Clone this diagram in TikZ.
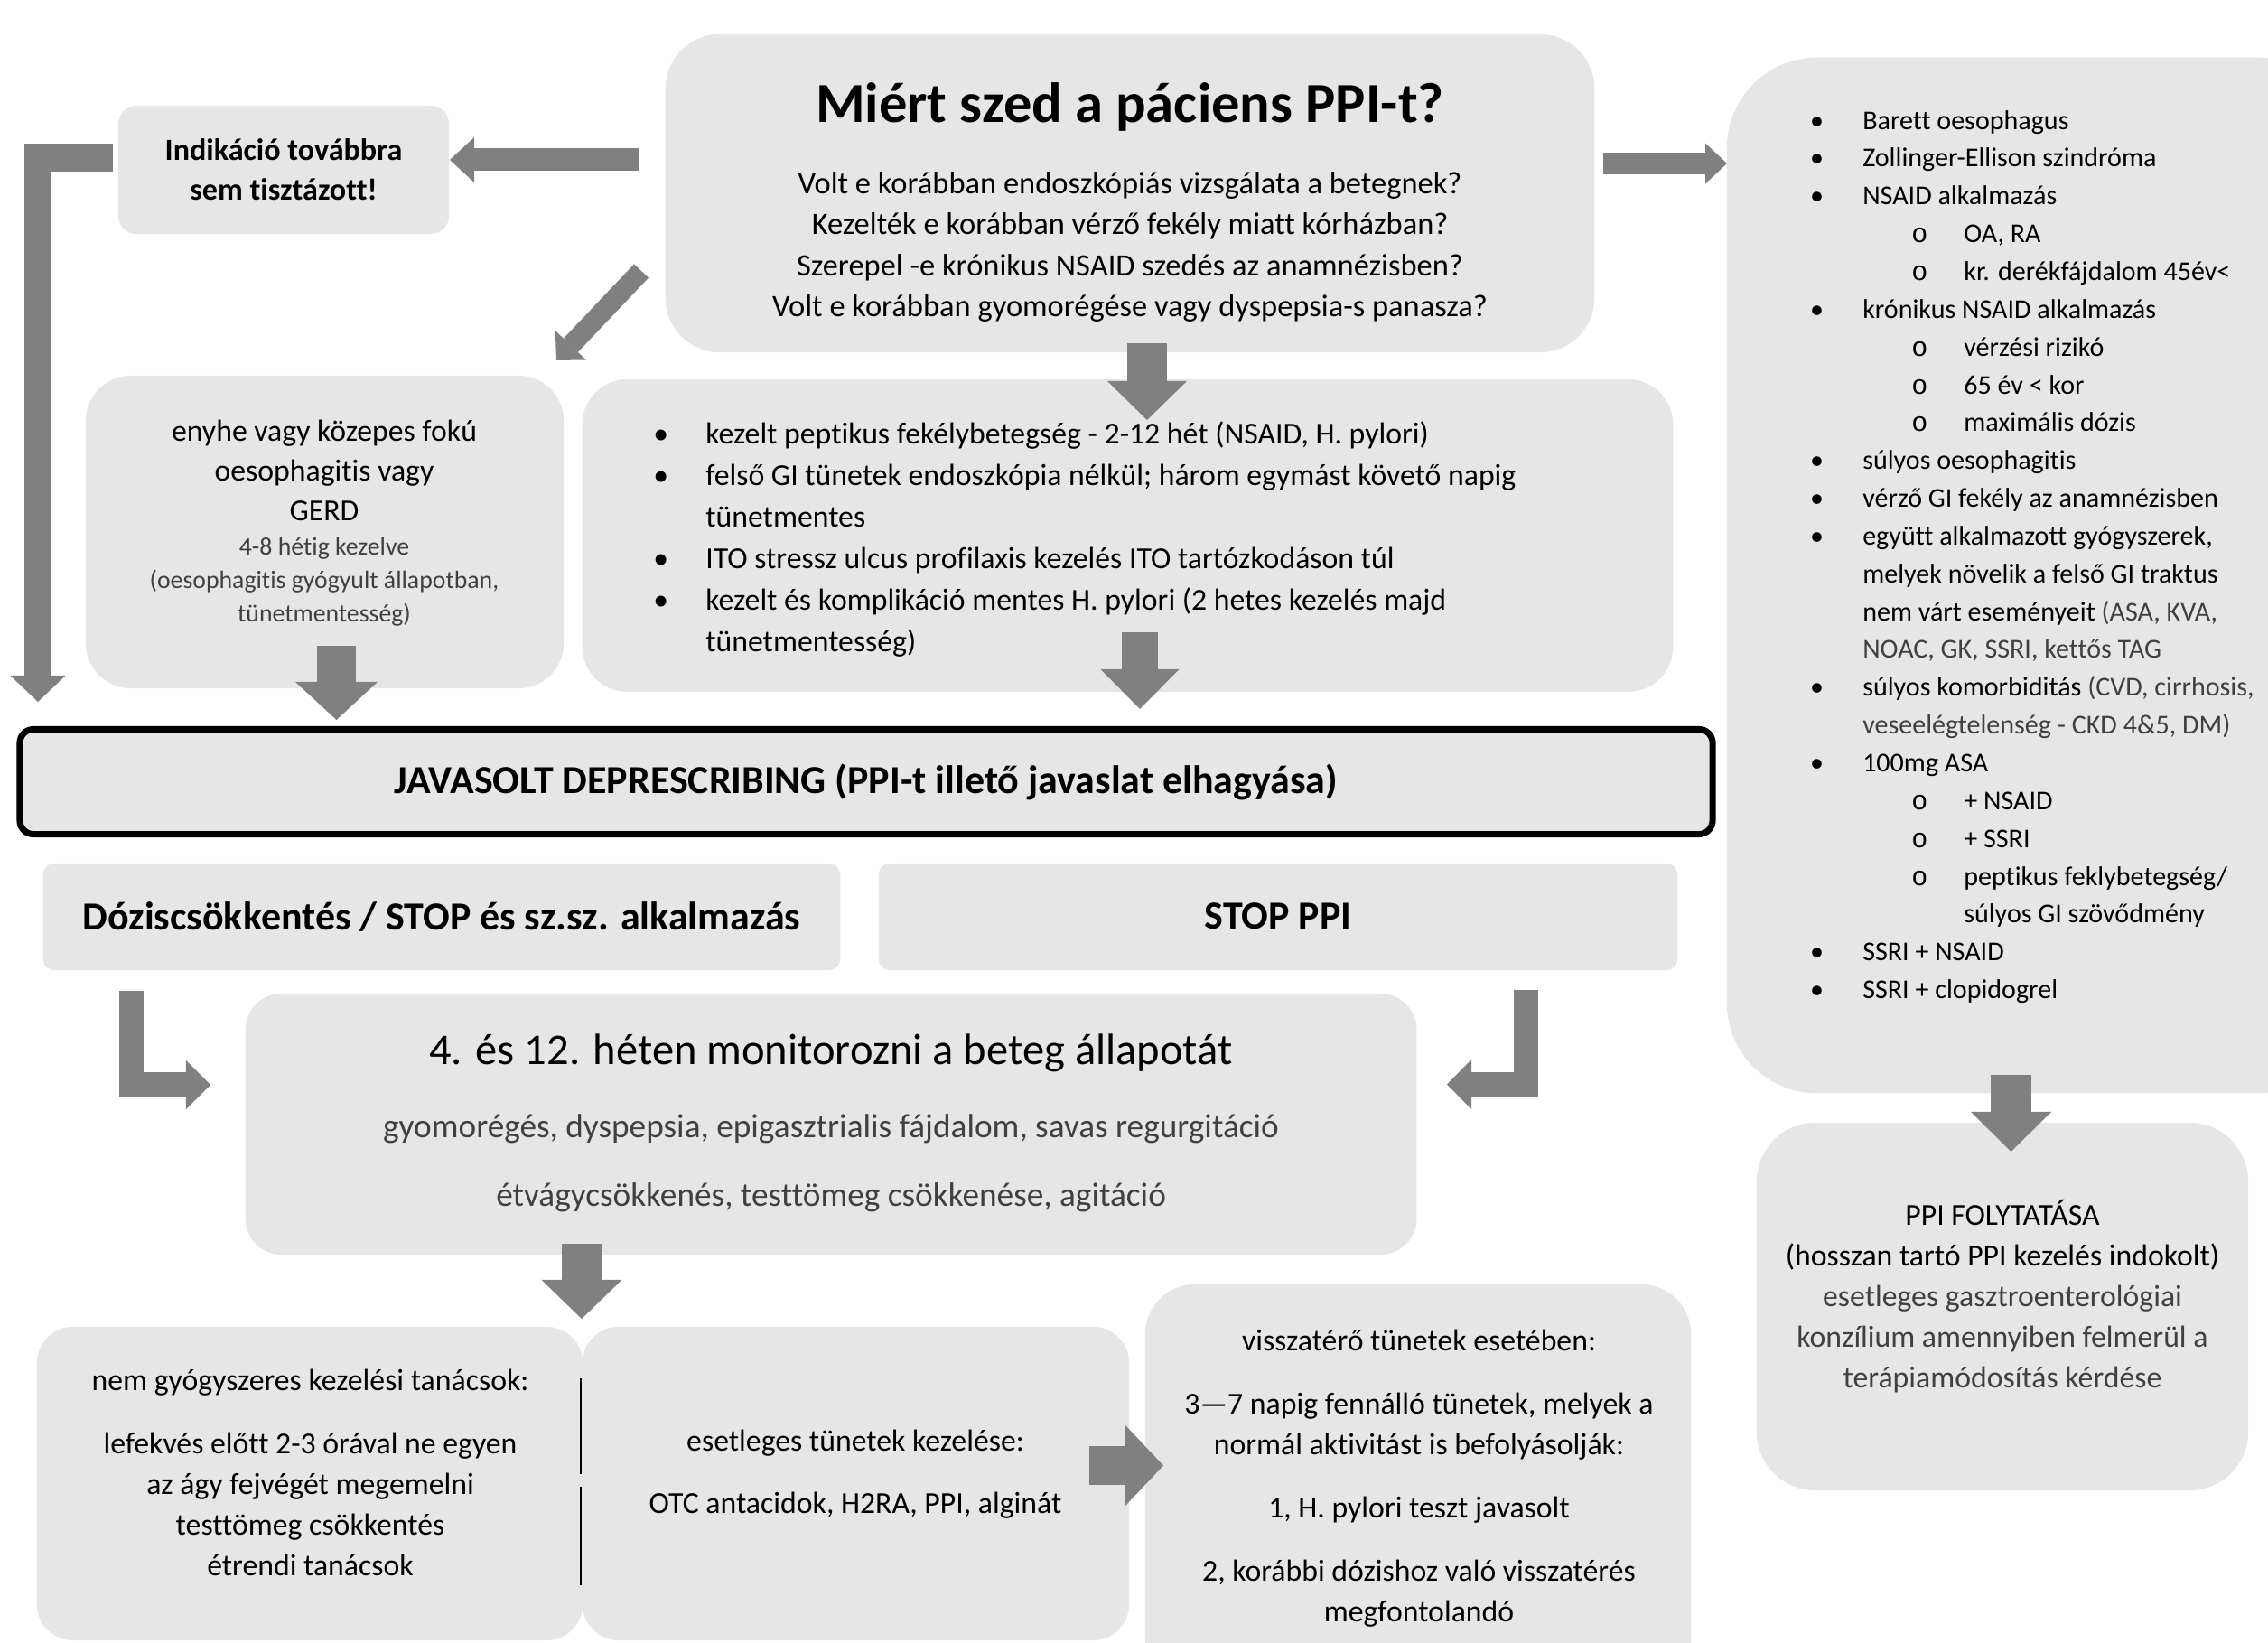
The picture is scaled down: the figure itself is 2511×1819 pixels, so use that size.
\documentclass[tikz,border=0pt]{standalone}
\usepackage{fontspec}
\setmainfont{Carlito}[Ligatures={TeX,NoCommon}]
\setmonofont{Liberation Mono}
\usetikzlibrary{arrows.meta}

\definecolor{boxgray}{RGB}{230,230,230}
\definecolor{arrowgray}{RGB}{128,128,128}
\definecolor{lighttext}{RGB}{64,64,64}

\newcommand{\lbul}{\makebox[0.58cm][l]{\textbullet}}
\newcommand{\lcont}{\hspace*{0.58cm}}
\newcommand{\lsub}{\hspace*{1.12cm}\makebox[0.58cm][l]{\ttfamily o}}
\newcommand{\lsubcont}{\hspace*{1.70cm}}

\begin{document}
\begin{tikzpicture}[x=0.01cm,y=-0.01cm,
  box/.style={fill=boxgray, inner sep=0pt, outer sep=0pt},
  txt/.style={font=\fontsize{9.6}{12.8}\selectfont, align=center, inner sep=0pt},
  small/.style={font=\fontsize{7.9}{10.5}\selectfont, align=center, inner sep=0pt, text=lighttext},
  head/.style={font=\bfseries\fontsize{12.5}{15}\selectfont},
  fatarrow/.style n args={3}{draw=arrowgray, line width=#1, -{Triangle[line width=0pt, length=#2, width=#3]}}]

\useasboundingbox (0,0) rectangle (2511,1819);

% boxes
\node[box, minimum width=10.28cm, minimum height=3.52cm, rounded corners=0.6cm] (title) at (1251,214) {};
\node[box, minimum width=3.66cm, minimum height=1.42cm, rounded corners=0.2cm, align=center,
      font=\bfseries\fontsize{9.7}{12.5}\selectfont] (indik) at (314,188) {Indikáció továbbra\\sem tisztázott!};
\node[box, minimum width=5.29cm, minimum height=3.46cm, rounded corners=0.5cm] (enyhe) at (359.5,589) {};
\node[box, minimum width=12.07cm, minimum height=3.46cm, rounded corners=0.5cm] (kezelt) at (1248.5,593) {};
\node[box, minimum width=6.88cm, minimum height=11.46cm, rounded corners=1cm] (indok) at (2256,637) {};
\node[box, draw=black, line width=0.07cm, minimum width=18.73cm, minimum height=1.16cm, rounded corners=0.15cm, head]
      (javasolt) at (959,865.5) {\raisebox{-0.8pt}{JAVASOLT DEPRESCRIBING (PPI-t illető javaslat elhagyása)}};
\node[box, minimum width=8.82cm, minimum height=1.18cm, rounded corners=0.12cm, head] (dozis) at (489,1015)
      {\raisebox{0.8pt}{Dóziscsökkentés / STOP és sz.sz. alkalmazás}};
\node[box, minimum width=8.84cm, minimum height=1.18cm, rounded corners=0.12cm, head] (stop) at (1415,1015)
      {\raisebox{0.8pt}{STOP PPI}};
\node[box, minimum width=12.96cm, minimum height=2.89cm, rounded corners=0.4cm] (monitor) at (920,1244.5) {};
\node[box, minimum width=6.04cm, minimum height=3.47cm, rounded corners=0.4cm] (nemgy) at (343,1642.5) {};
\node[box, minimum width=6.05cm, minimum height=3.47cm, rounded corners=0.4cm] (eset) at (947.5,1642.5) {};
\node[box, minimum width=6.04cm, minimum height=4.48cm, rounded corners=0.55cm] (vissza) at (1570,1646) {};
\node[box, minimum width=5.44cm, minimum height=4.07cm, rounded corners=0.65cm] (folytat) at (2217,1446.5) {};

% texts
\node[font=\bfseries\fontsize{17.8}{21}\selectfont, inner sep=0pt] (q-title) at (1251,118.5) {Miért szed a páciens PPI-t?};
\node[txt, font=\fontsize{9.8}{12.8}\selectfont] (q-lines) at (1251,273.5) {Volt e korábban endoszkópiás vizsgálata a betegnek?\\
  Kezelték e korábban vérző fekély miatt kórházban?\\
  Szerepel -e krónikus NSAID szedés az anamnézisben?\\
  Volt e korábban gyomorégése vagy dyspepsia-s panasza?};
\node[txt, font=\fontsize{9.6}{12.5}\selectfont] (enyhe-a) at (359,520.5) {enyhe vagy közepes fokú\\oesophagitis vagy\\GERD};
\node[small] (enyhe-b) at (359,644) {4-8 hétig kezelve\\(oesophagitis gyógyult állapotban,\\tünetmentesség)};
\node[txt, align=left, anchor=west, font=\fontsize{9.6}{13.1}\selectfont] (kezelt-list) at (722.6,597) {%
  \lbul kezelt peptikus fekélybetegség - 2-12 hét (NSAID, H. pylori)\\
  \lbul felső GI tünetek endoszkópia nélkül; három egymást követő napig\\
  \lcont tünetmentes\\
  \lbul ITO stressz ulcus profilaxis kezelés ITO tartózkodáson túl\\
  \lbul kezelt és komplikáció mentes H. pylori (2 hetes kezelés majd\\
  \lcont tünetmentesség)};
\node[txt, align=left, anchor=west, font=\fontsize{8.55}{11.9}\selectfont] (indok-list) at (2003.5,616.5) {%
  \lbul Barett oesophagus\\
  \lbul Zollinger-Ellison szindróma\\
  \lbul NSAID alkalmazás\\
  \lsub OA, RA\\
  \lsub kr. derékfájdalom 45év<\\
  \lbul krónikus NSAID alkalmazás\\
  \lsub vérzési rizikó\\
  \lsub 65 év < kor\\
  \lsub maximális dózis\\
  \lbul súlyos oesophagitis\\
  \lbul vérző GI fekély az anamnézisben\\
  \lbul együtt alkalmazott gyógyszerek,\\
  \lcont melyek növelik a felső GI traktus\\
  \lcont nem várt eseményeit {\color{lighttext}(ASA, KVA,}\\
  \lcont {\color{lighttext}NOAC, GK, SSRI, kettős TAG}\\
  \lbul súlyos komorbiditás {\color{lighttext}(CVD, cirrhosis,}\\
  \lcont {\color{lighttext}veseelégtelenség - CKD 4\&5, DM)}\\
  \lbul 100mg ASA\\
  \lsub + NSAID\\
  \lsub + SSRI\\
  \lsub peptikus feklybetegség/\\
  \lsubcont súlyos GI szövődmény\\
  \lbul SSRI + NSAID\\
  \lbul SSRI + clopidogrel};
\node[inner sep=0pt, font=\fontsize{13.8}{16}\selectfont] (mon-title) at (920,1166) {4. és 12. héten monitorozni a beteg állapotát};
\node[txt, text=lighttext, font=\fontsize{10.6}{21.6}\selectfont] (mon-lines) at (920,1288)
  {gyomorégés, dyspepsia, epigasztrialis fájdalom, savas regurgitáció\\étvágycsökkenés, testtömeg csökkenése, agitáció};
\node[txt] (nemgy-text) at (343.5,1630.5) {nem gyógyszeres kezelési tanácsok:\\[7.1pt]
  lefekvés előtt 2-3 órával ne egyen\\az ágy fejvégét megemelni\\testtömeg csökkentés\\étrendi tanácsok};
\node[txt] (eset-text) at (947,1632.5) {esetleges tünetek kezelése:\\[6.8pt]OTC antacidok, H2RA, PPI, alginát};
\node[txt] (vissza-text) at (1571,1636.5) {visszatérő tünetek esetében:\\[7.1pt]
  3—7 napig fennálló tünetek, melyek a\\normál aktivitást is befolyásolják:\\[7.1pt]
  1, H. pylori teszt javasolt\\[7.1pt]
  2, korábbi dózishoz való visszatérés\\megfontolandó};
\node[txt] (folytat-text) at (2217,1435) {PPI FOLYTATÁSA\\(hosszan tartó PPI kezelés indokolt)\\
  \color{lighttext}esetleges gasztroenterológiai\\\color{lighttext}konzílium amennyiben felmerül a\\\color{lighttext}terápiamódosítás kérdése};

% separators
\draw[line width=0.02cm] (643,1526) -- (643,1632);
\draw[line width=0.02cm] (643,1646) -- (643,1755);

% arrows
\coordinate (ti-s) at (707,177);    \coordinate (ti-e) at (498,177);
\coordinate (il-s) at (125,174.5);  \coordinate (il-e) at (42,777);
\coordinate (te-s) at (710,300);    \coordinate (te-e) at (616,399);
\coordinate (tk-s) at (1270,380);   \coordinate (tk-e) at (1270,465);
\coordinate (tl-s) at (1775,181);   \coordinate (tl-e) at (1912,181);
\coordinate (ej-s) at (372.5,715);  \coordinate (ej-e) at (372.5,797);
\coordinate (kj-s) at (1262,700);   \coordinate (kj-e) at (1262,785);
\coordinate (dm-s) at (145.5,1097); \coordinate (dm-e) at (233,1201);
\coordinate (sm-s) at (1689.5,1096);\coordinate (sm-e) at (1602,1200.5);
\coordinate (mb-s) at (644,1377);   \coordinate (mb-e) at (644,1460);
\coordinate (ev-s) at (1206,1622.5);\coordinate (ev-e) at (1288,1622.5);
\coordinate (lf-s) at (2226.5,1190);\coordinate (lf-e) at (2226.5,1275);

\draw[fatarrow={0.25cm}{0.27cm}{0.50cm}] (ti-s) -- (ti-e);
\draw[fatarrow={0.305cm}{0.29cm}{0.61cm}] (il-s) -| (il-e);
\draw[fatarrow={0.22cm}{0.23cm}{0.47cm}] (te-s) -- (te-e);
\draw[fatarrow={0.43cm}{0.43cm}{0.88cm}] (tk-s) -- (tk-e);
\draw[fatarrow={0.24cm}{0.24cm}{0.45cm}] (tl-s) -- (tl-e);
\draw[fatarrow={0.43cm}{0.42cm}{0.91cm}] (ej-s) -- (ej-e);
\draw[fatarrow={0.40cm}{0.44cm}{0.87cm}] (kj-s) -- (kj-e);
\draw[fatarrow={0.275cm}{0.27cm}{0.54cm}] (dm-s) |- (dm-e);
\draw[fatarrow={0.27cm}{0.27cm}{0.55cm}] (sm-s) |- (sm-e);
\draw[fatarrow={0.44cm}{0.43cm}{0.89cm}] (mb-s) -- (mb-e);
\draw[fatarrow={0.43cm}{0.42cm}{0.89cm}] (ev-s) -- (ev-e);
\draw[fatarrow={0.45cm}{0.44cm}{0.89cm}] (lf-s) -- (lf-e);
\end{tikzpicture}
\end{document}
